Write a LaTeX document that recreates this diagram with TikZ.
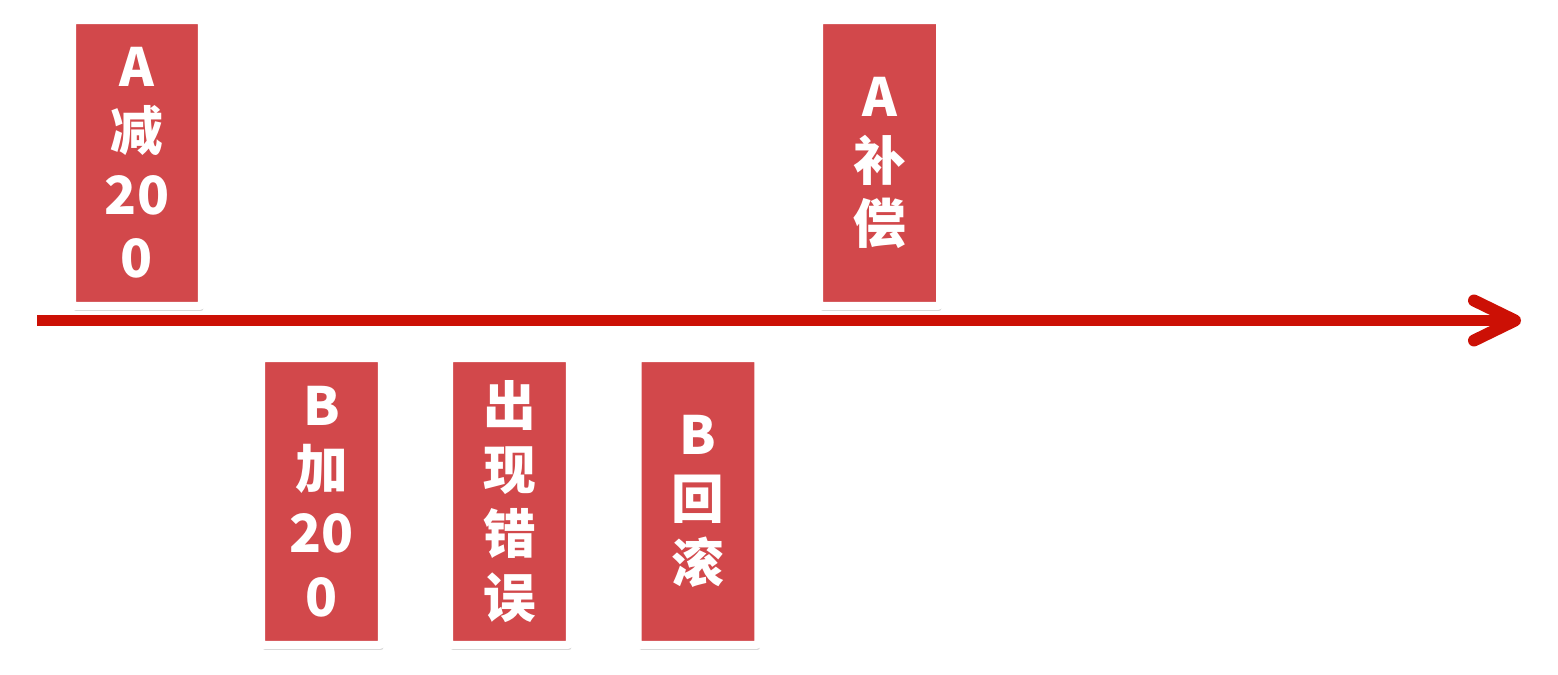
\documentclass[tikz,border=0pt]{standalone}
\usepackage{fontspec}
\newfontfamily\cjk{Noto Sans CJK SC}
\usepackage{xcolor}
\usetikzlibrary{calc, shadows, positioning}

\definecolor{cardred}{HTML}{D2484B}
\definecolor{timered}{HTML}{CC1005}

\begin{document}
\begin{tikzpicture}[x=0.02cm, y=-0.02cm,
    card/.style={draw=white, line width=0.16cm, fill=cardred, text=white,
        rounded corners=1.5pt, inner sep=0pt, align=center,
        minimum width=2.42cm, minimum height=5.74cm,
        font=\cjk\bfseries\fontsize{30}{36.3}\selectfont,
        drop shadow={opacity=0.3, fill=gray, shadow xshift=0.03cm, shadow yshift=-0.1cm}},
    timeline/.style={draw=timered, line width=0.24cm}]

    % canvas
    \useasboundingbox (0,0) rectangle (1558,675);

    % =================================================================
    % 1. time axis
    % =================================================================
    \coordinate (T0) at (37,320.5);
    \coordinate (T1) at (1515,320.5);
    \draw[timeline] (T0) -- (T1);
    \draw[timeline, line cap=round, line join=round]
        ($(T1)+(-41,-20)$) -- (T1) -- ($(T1)+(-41,20)$);

    % =================================================================
    % 2. steps above the axis
    % =================================================================
    \node[card, minimum width=2.6cm, minimum height=5.72cm] (subA) at (137,163) {A\\减\\20\\0};
    \node[card, minimum height=5.72cm] (compA) at (879.5,163) {A\\补\\偿};

    % =================================================================
    % 3. steps below the axis
    % =================================================================
    \node[card] (addB) at (321.5,501.5) {B\\加\\20\\0};
    \node[card] (error) at (509.5,501.5) {出\\现\\错\\误};
    \node[card] (rollB) at (698,501.5) {B\\回\\滚};

\end{tikzpicture}
\end{document}
